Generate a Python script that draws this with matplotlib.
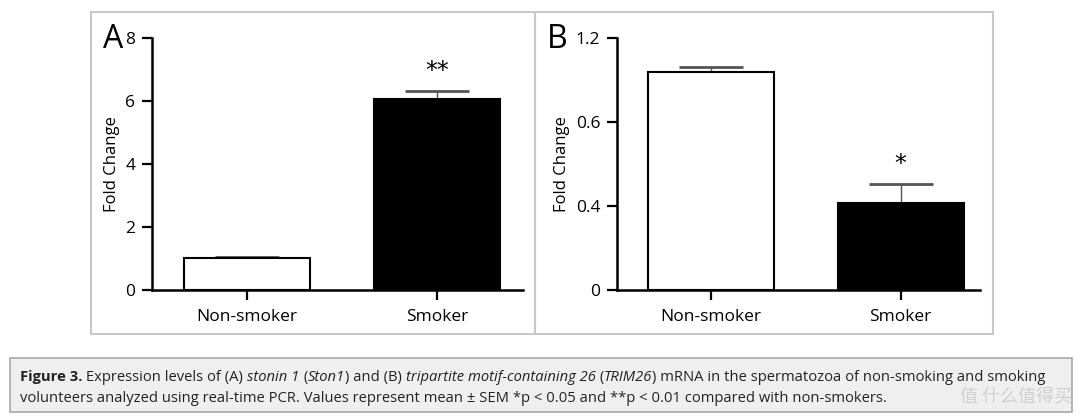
import matplotlib.pyplot as plt
from matplotlib.patches import Rectangle

plt.rcParams['font.family'] = ['Open Sans', 'DejaVu Sans']

# data
groups = ["Non-smoker", "Smoker"]
ston1_mean = [1.03, 6.06]
ston1_sem = [0.03, 0.26]
trim26_mean = [1.037, 0.413]
trim26_sem = [0.024, 0.092]
a_ticks = [0, 2, 4, 6, 8]
b_ticks = [0, 0.4, 0.8, 1.2]
b_tick_labels = ["0", "0.4", "0.6", "1.2"]   # as printed in the original
a_stars = ["", "**"]
b_stars = ["", "*"]

W, H = 1080, 418
fig = plt.figure(figsize=(W / 100, H / 100), dpi=100)


def px(x0, y0, x1, y1):
    # pixel box -> figure fraction [left, bottom, width, height]
    return [x0 / W, 1 - y1 / H, (x1 - x0) / W, (y1 - y0) / H]


# panel frames
for (x0, x1) in [(91, 535), (535, 993)]:
    fig.patches.append(Rectangle((x0 / W, 1 - 334 / H), (x1 - x0) / W, 322 / H,
                                 transform=fig.transFigure, fill=False,
                                 edgecolor='#c8c8c8', lw=1.5))
# caption box
fig.patches.append(Rectangle((10 / W, 1 - 412 / H), 1062 / W, 54 / H,
                             transform=fig.transFigure, facecolor='#efefef',
                             edgecolor='#a8a8a8', lw=1.2))


def panel(box, xlim, means, sems, ticks, ticklabels, stars, letter, letter_x, ylim):
    ax = fig.add_axes(px(*box))
    x = range(len(groups))
    ax.bar(x, means, width=0.663, color=['white', 'black'],
           edgecolor='black', linewidth=1.5, zorder=2)
    ax.errorbar(x, means, yerr=[[0] * len(sems), sems], fmt='none',
                ecolor='#555555', elinewidth=1.0, capsize=23, capthick=2,
                zorder=1)
    for xi, m, s, st in zip(x, means, sems, stars):
        if st:
            ax.text(xi, m + s + (ylim[1] * 0.03), st, ha='center', va='bottom',
                    fontsize=17, family='DejaVu Sans')
    ax.set_xlim(*xlim)
    ax.set_ylim(*ylim)
    ax.set_yticks(ticks)
    ax.set_yticklabels(ticklabels)
    ax.set_xticks(list(x))
    ax.set_xticklabels(groups)
    ax.set_ylabel("Fold Change", fontsize=12, labelpad=4)
    for s in ['top', 'right']:
        ax.spines[s].set_visible(False)
    for s in ['left', 'bottom']:
        ax.spines[s].set_linewidth(1.8)
    ax.tick_params(axis='both', direction='out', length=7, width=1.6,
                   labelsize=12.5, pad=5)
    ax.tick_params(axis='x', pad=7)
    ax.patch.set_visible(False)
    fig.text(letter_x / W, 1 - 39 / H, letter, fontsize=23,
             ha='left', va='center')
    return ax


panel((152, 38, 523, 290), (-0.5, 1.453), ston1_mean, ston1_sem,
      a_ticks, [str(t) for t in a_ticks], a_stars, "A", 103, (0, 8))
panel((617, 38, 980, 290), (-0.492, 1.418), trim26_mean, trim26_sem,
      b_ticks, b_tick_labels, b_stars, "B", 547, (0, 1.2))

# caption with mixed styles
renderer = fig.canvas.get_renderer()


def runs(pieces, x0, y0, size=10.6):
    x = x0
    for txt, style in pieces:
        kw = dict(fontsize=size, va='baseline', ha='left', color='#222222')
        if style == 'b':
            kw['fontweight'] = 'bold'
        elif style == 'i':
            kw['fontstyle'] = 'italic'
        t = fig.text(x / W, 1 - y0 / H, txt, **kw)
        bb = t.get_window_extent(renderer=renderer)
        x += bb.width


line1 = [("Figure 3.", 'b'), (" Expression levels of (A) ", 'n'), ("stonin 1", 'i'),
         (" (", 'n'), ("Ston1", 'i'), (") and (B) ", 'n'),
         ("tripartite motif-containing 26", 'i'), (" (", 'n'), ("TRIM26", 'i'),
         (") mRNA in the spermatozoa of non-smoking and smoking", 'n')]
line2 = [("volunteers analyzed using real-time PCR. Values represent mean \u00b1 SEM *p < 0.05 "
          "and **p < 0.01 compared with non-smokers.", 'n')]
runs(line1, 20, 381)
runs(line2, 20, 402)

# watermark
fig.text(1072 / W, 1 - 402 / H, "值 什么值得买", fontsize=13, color='#d0d0d0',
         ha='right', va='baseline', family=['Noto Sans CJK SC', 'DejaVu Sans'])

fig.savefig("out.png", dpi=100)
